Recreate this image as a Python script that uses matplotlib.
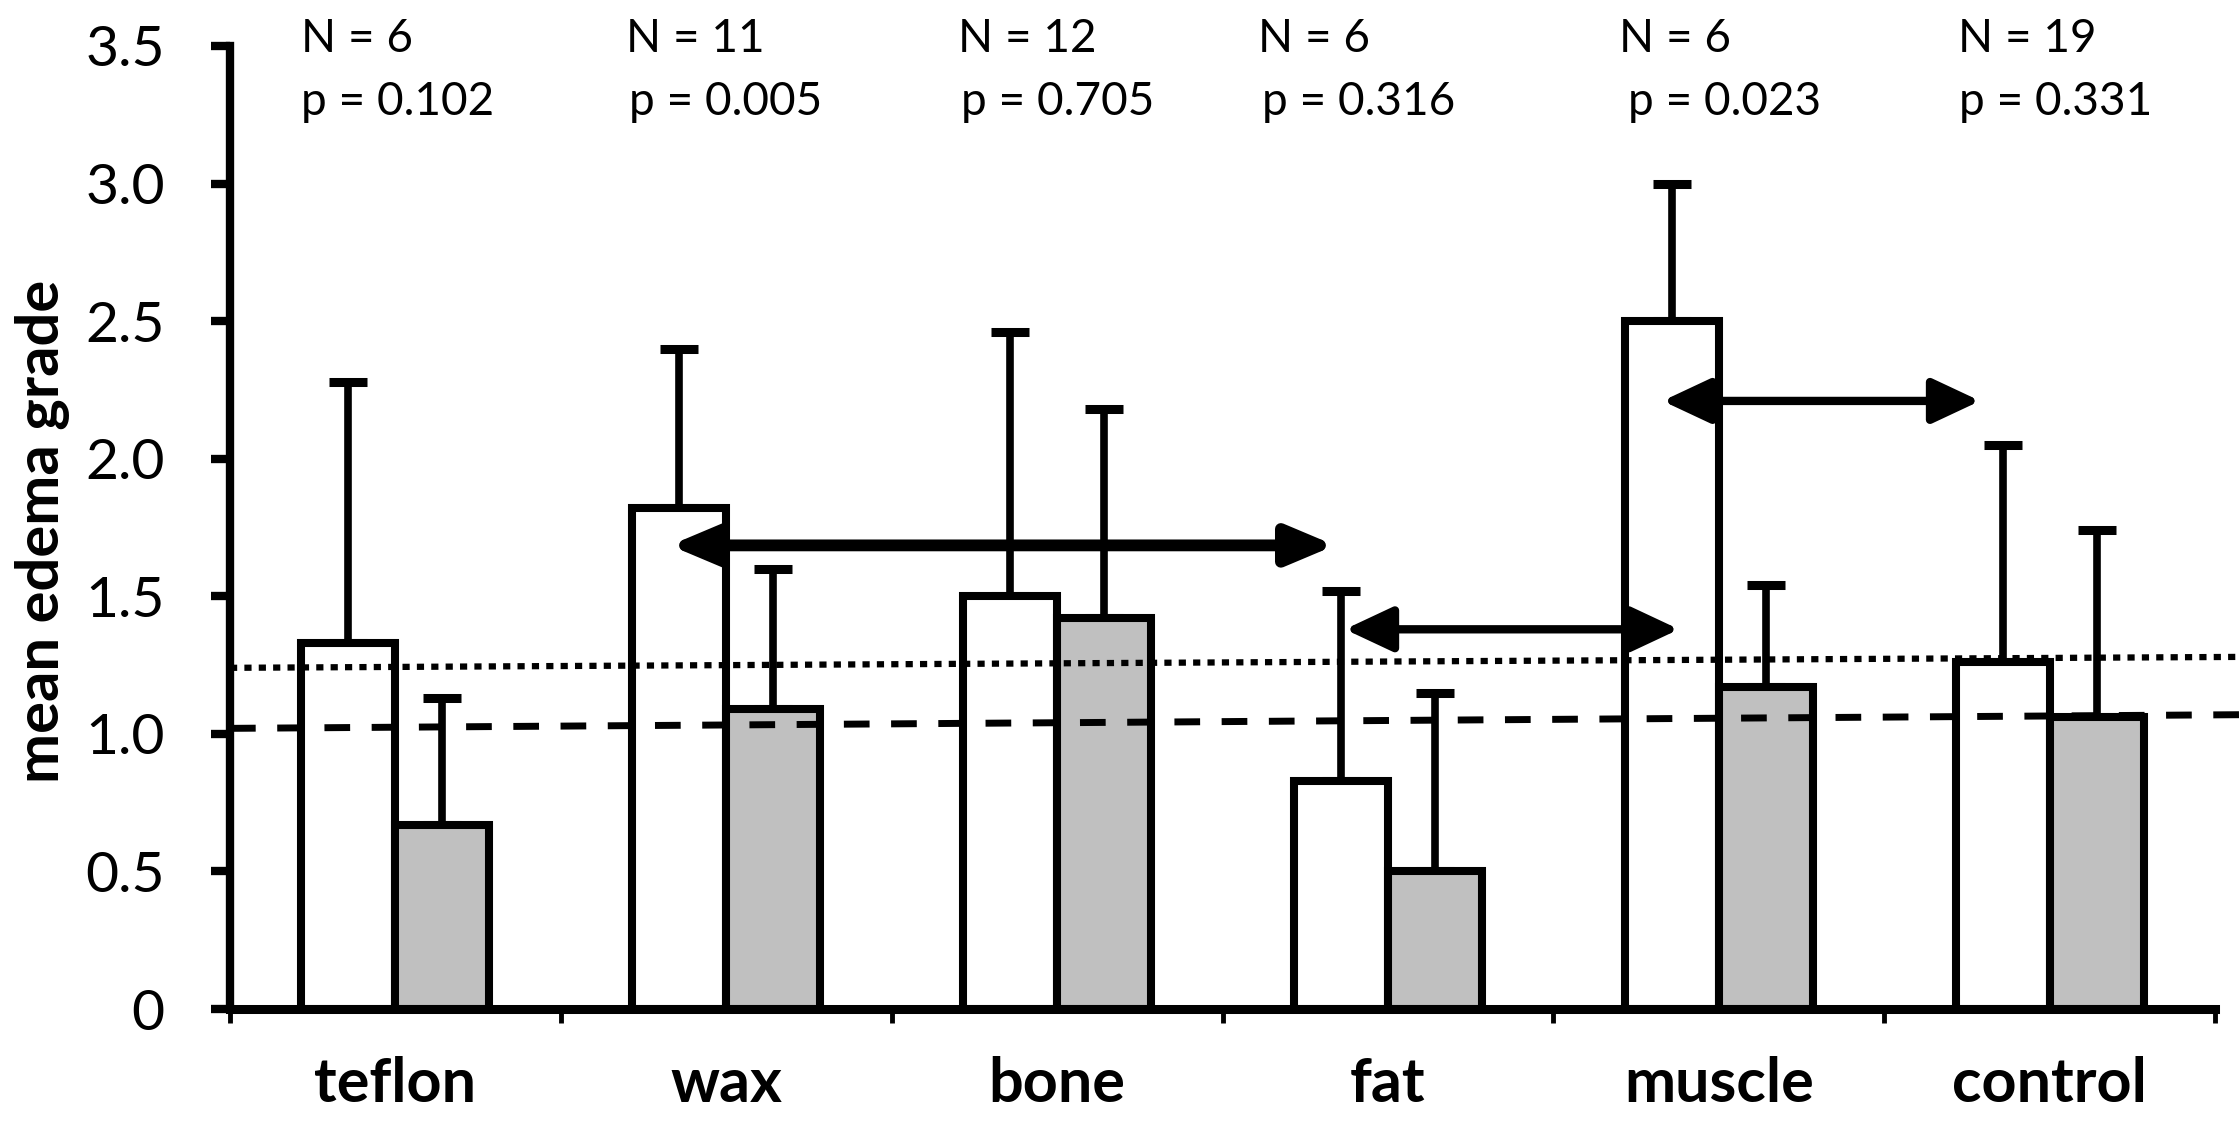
import matplotlib
matplotlib.use('Agg')
import matplotlib.pyplot as plt
from matplotlib.patches import FancyArrowPatch
import numpy as np

# data
categories = ['teflon', 'wax', 'bone', 'fat', 'muscle', 'control']
n_values = [6, 11, 12, 6, 6, 19]
p_values = ['0.102', '0.005', '0.705', '0.316', '0.023', '0.331']
white_means = [1.33, 1.82, 1.50, 0.83, 2.50, 1.26]
white_sd = [0.95, 0.58, 0.96, 0.69, 0.50, 0.79]
gray_means = [0.67, 1.09, 1.42, 0.50, 1.17, 1.06]
gray_sd = [0.46, 0.51, 0.76, 0.65, 0.37, 0.68]

# reference lines (start, end values)
dotted_line = [1.24, 1.28]
dashed_line = [1.02, 1.07]

# comparison arrows
arrow_x0 = [0.83, 2.87, 3.83]
arrow_x1 = [2.84, 3.88, 4.79]
arrow_y = [1.685, 1.38, 2.21]

plt.rcParams['font.family'] = ['Lato', 'DejaVu Sans']

fig = plt.figure(figsize=(22.39, 11.30), dpi=100)
ax = fig.add_axes([230 / 2239, 1 - 1009 / 1130, 1985 / 2239, 963 / 1130])

x = np.arange(len(categories))
width = 0.284

ax.bar(x - width / 2, white_means, width, color='white', edgecolor='black',
       linewidth=5.8, zorder=2)
ax.bar(x + width / 2, gray_means, width, color='#c0c0c0', edgecolor='black',
       linewidth=5.8, zorder=2)
ax.errorbar(x - width / 2, white_means, yerr=[np.zeros(len(x)), white_sd],
            fmt='none', ecolor='black', elinewidth=5.5, capsize=14, capthick=6.5, zorder=1)
ax.errorbar(x + width / 2, gray_means, yerr=[np.zeros(len(x)), gray_sd],
            fmt='none', ecolor='black', elinewidth=5.5, capsize=14, capthick=6.5, zorder=1)

# dotted / dashed reference lines run a bit past the axis end
line_x = [-0.5, 5.62]
ax.plot(line_x, dotted_line, color='black', lw=4.5, linestyle=(0, (1.15, 1.15)),
        dash_capstyle='butt', clip_on=False, zorder=3)
ax.plot(line_x, dashed_line, color='black', lw=5, linestyle=(0, (3.7, 3.1)),
        dash_capstyle='butt', clip_on=False, zorder=3)

arrow_lw = [8.5, 6, 6]
head_len = [28, 29, 29]
head_w = [11.8, 13.6, 13.6]
for i in range(len(arrow_y)):
    arr = FancyArrowPatch((arrow_x0[i], arrow_y[i]), (arrow_x1[i], arrow_y[i]),
                          arrowstyle=f'<|-|>,head_length={head_len[i]},head_width={head_w[i]}',
                          mutation_scale=1, lw=arrow_lw[i], color='black',
                          shrinkA=0, shrinkB=0, zorder=5, clip_on=False)
    ax.add_patch(arr)

# N and p annotations above each group
n_off = [-0.285, -0.303, -0.30, -0.392, -0.301, -0.276]
p_off = [-0.285, -0.294, -0.29, -0.38, -0.274, -0.273]
for i in range(len(categories)):
    ax.text(x[i] + n_off[i], 3.479, f'N = {n_values[i]}', fontsize=33, va='baseline')
    ax.text(x[i] + p_off[i], 3.25, f'p = {p_values[i]}', fontsize=33, va='baseline')

ax.set_xlim(-0.5, 5.5)
ax.set_ylim(0, 3.5)

for s in ['top', 'right']:
    ax.spines[s].set_visible(False)
ax.spines['left'].set_linewidth(6)
ax.spines['bottom'].set_linewidth(6.5)

yt = np.arange(0, 3.51, 0.5)
ax.set_yticks(yt)
ax.set_yticklabels(['0'] + [f'{v:.1f}' for v in yt[1:]], fontsize=41)
ax.tick_params(axis='y', length=14, width=6, pad=33)

ax.set_xticks(np.arange(-0.5, 5.6, 1.0))
ax.set_xticklabels([])
ax.tick_params(axis='x', which='major', length=10, width=3.5)
ax.set_xticks(x, minor=True)
ax.set_xticklabels(categories, minor=True, fontsize=44, fontweight='bold')
ax.tick_params(axis='x', which='minor', length=0, pad=34)

fig.text(43 / 2239, 0.53, 'mean edema grade', rotation=90, ha='center', va='center',
         fontsize=43, fontweight='bold')

fig.savefig('out.png', dpi=100)
